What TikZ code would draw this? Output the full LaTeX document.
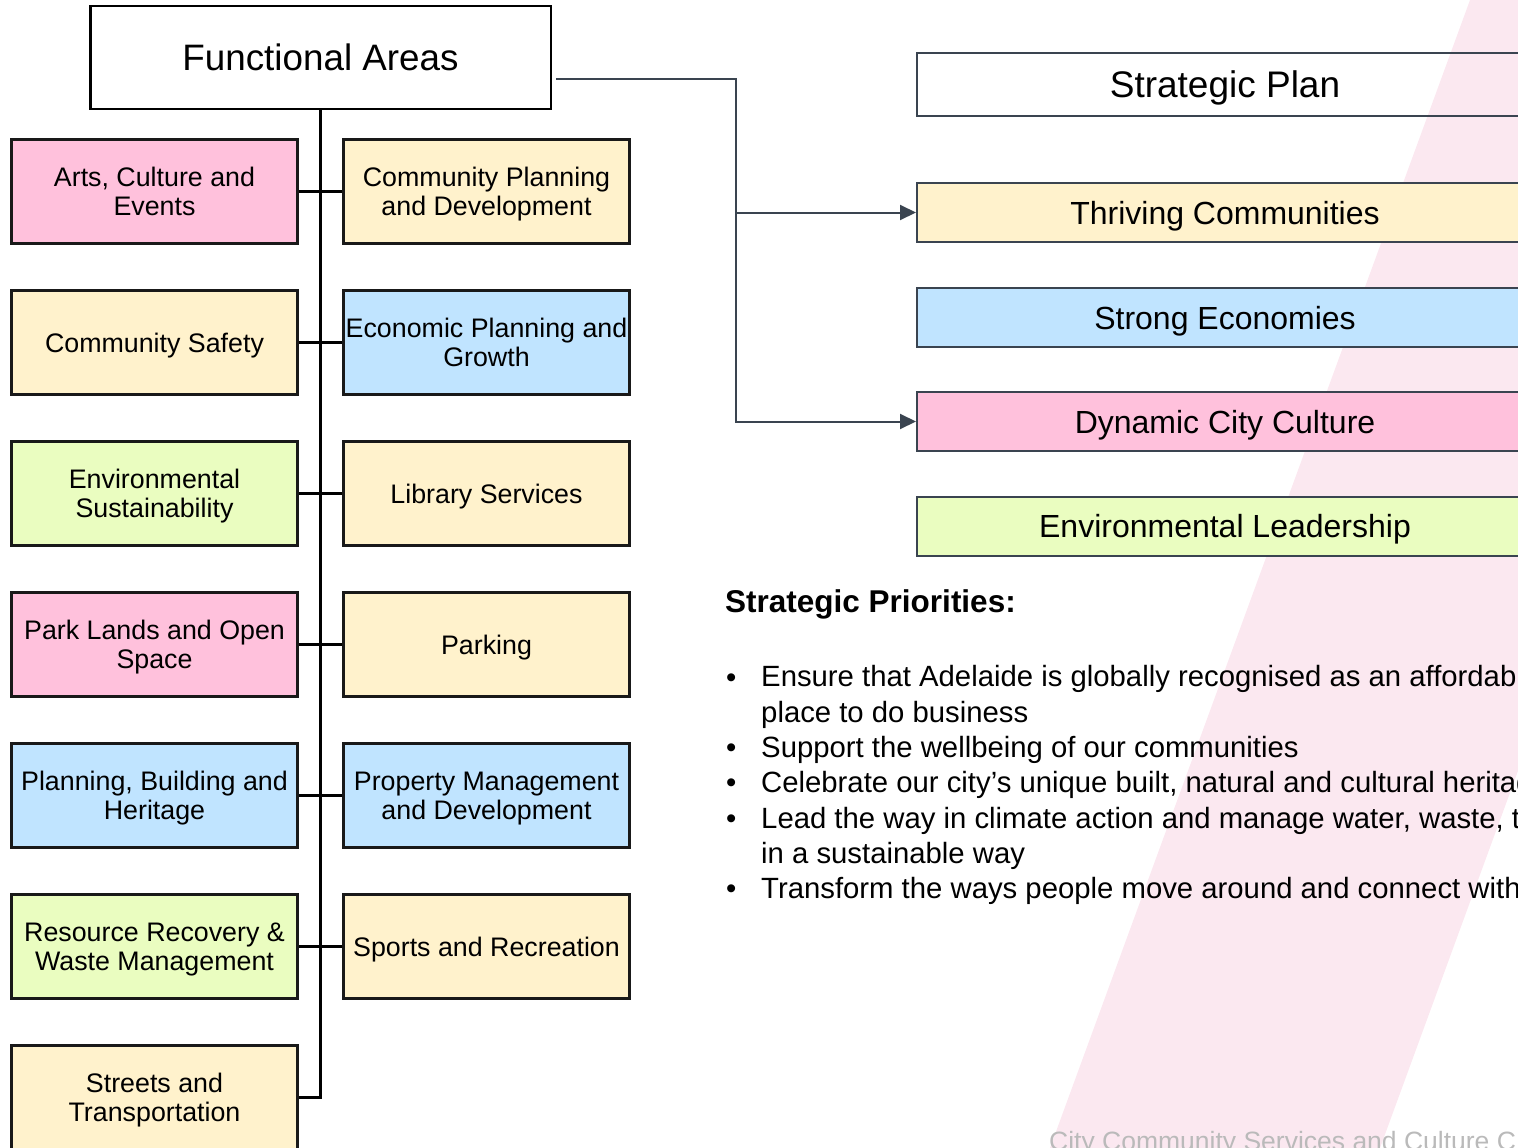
\documentclass[tikz,border=0pt]{standalone}
\usepackage{fontspec}
\setmainfont{Liberation Sans}
\usetikzlibrary{arrows.meta}
\usetikzlibrary{calc}

\definecolor{pinkfill}{RGB}{255,193,220}
\definecolor{yellowfill}{RGB}{255,242,204}
\definecolor{bluefill}{RGB}{192,228,255}
\definecolor{greenfill}{RGB}{234,253,192}
\definecolor{slate}{RGB}{58,68,80}
\definecolor{stripe}{RGB}{251,232,240}

% struts for the box texts
\newcommand{\boxtop}{\rule{0pt}{27pt}}
\newcommand{\boxbot}{\rule[-7.8pt]{0pt}{7.8pt}}

\begin{document}
\begin{tikzpicture}[x=1pt,y=-1pt,
  areabox/.style={draw=black!90, line width=3pt, minimum width=286pt, minimum height=104pt, inner sep=0pt, align=center, font=\fontsize{26.8}{29}\selectfont},
  planbox/.style={draw=slate, line width=2pt, minimum width=616pt, minimum height=59pt, inner sep=0pt, text height=30pt, text depth=7pt, font=\fontsize{32}{36}\selectfont},
  link/.style={draw=black, line width=3pt},
  flow/.style={draw=slate, line width=2pt, -{Triangle[length=16pt,width=15pt]}},
  prio/.style={anchor=base west, inner sep=0pt, font=\fontsize{29.3}{35}\selectfont}]
\useasboundingbox (0,0) rectangle (1518,1148);
\clip (0,0) rectangle (1518,1148);

% background stripe
\fill[stripe] (1470,0) -- (1800,0) -- (1380,1148) -- (1050,1148) -- cycle;

% functional areas
\node[draw=black, line width=2.5pt, minimum width=460.5pt, minimum height=102.5pt, font=\fontsize{36.8}{40}\selectfont] (fa) at (320.5,57.5) {Functional Areas};

\foreach \c/\t [count=\i from 0] in {pinkfill/{Arts, Culture and\\Events}, yellowfill/{Community Safety}, greenfill/{Environmental\\Sustainability}, pinkfill/{Park Lands and Open\\Space}, bluefill/{Planning, Building and\\Heritage}, greenfill/{Resource Recovery \&\\Waste Management}, yellowfill/{Streets and\\Transportation}}
  \node[areabox, fill=\c] (left\i) at (154.5,{191.5+151*\i}) {\boxtop\t\boxbot};

\foreach \c/\t [count=\i from 0] in {yellowfill/{Community Planning\\and Development}, bluefill/{Economic Planning and\\Growth}, yellowfill/{Library Services}, yellowfill/{Parking}, bluefill/{Property Management\\and Development}, yellowfill/{Sports and Recreation}}
  \node[areabox, fill=\c] (right\i) at (486.5,{191.5+151*\i}) {\boxtop\t\boxbot};

\draw[link] (fa.south) |- (left6.east);
\foreach \i in {0,...,5} \draw[link] (left\i.east) -- (right\i.west);

% strategic plan
\node[planbox, minimum height=63pt, text height=33.4pt, font=\fontsize{37}{40}\selectfont] (plan) at (1225,84.5) {Strategic Plan};
\node[planbox, fill=yellowfill] (thriving) at (1225,212.5) {Thriving Communities};
\node[planbox, fill=bluefill] (economies) at (1225,317.5) {Strong Economies};
\node[planbox, fill=pinkfill] (culture) at (1225,421.5) {Dynamic City Culture};
\node[planbox, fill=greenfill] (leadership) at (1225,526) {Environmental Leadership};

\coordinate (faout) at ($(fa.east)+(4,21.5)$);
\coordinate (split) at (736,79);
\draw[flow] (faout) -- (split) |- (thriving.west);
\draw[flow] (split) |- (culture.west);

% priorities
\node[anchor=base west, inner sep=0pt, font=\bfseries\fontsize{31.5}{35}\selectfont] (priohead) at (725,612) {Strategic Priorities:};

\foreach \y [count=\i] in {687,757.6,792.9,828.2,898.8}
  \node[prio] (bul\i) at (726,\y) {•};

\foreach \y/\t [count=\i] in {686/{Ensure that Adelaide is globally recognised as an affordable}, 722.3/{place to do business}, 757.6/{Support the wellbeing of our communities}, 792.9/{Celebrate our city’s unique built, natural and cultural heritage}, 828.2/{Lead the way in climate action and manage water, waste, t}, 863.5/{in a sustainable way}, 898.8/{Transform the ways people move around and connect with}}
  \node[prio] (line\i) at (761,\y) {\t};

\node[anchor=base west, inner sep=0pt, text=black!27, font=\fontsize{26.5}{30}\selectfont] (footer) at (1049,1150) {City Community Services and Culture C};
\end{tikzpicture}
\end{document}
